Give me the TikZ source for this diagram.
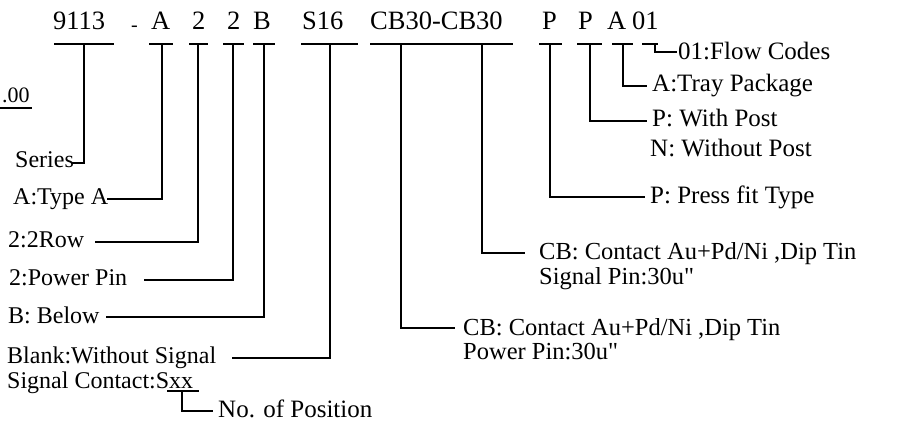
\documentclass[tikz,border=0pt]{standalone}
\usepackage{fontspec}
\setmainfont{Liberation Serif}
\begin{document}
\begin{tikzpicture}[x=1pt,y=-1pt,
  code/.style={anchor=base west,inner sep=0pt,font=\fontsize{26.5}{26.5}\selectfont},
  lab/.style={anchor=base west,inner sep=0pt,font=\fontsize{24}{24}\selectfont},
  rlab/.style={anchor=base west,inner sep=0pt,font=\fontsize{25}{25}\selectfont},
  cblab/.style={anchor=base west,inner sep=0pt,font=\fontsize{24.5}{24.5}\selectfont},
  ul/.style={line width=1.5pt},
  conn/.style={line width=1.3pt}]
\useasboundingbox[fill=white] (0,0) rectangle (899,430);

% top code row
\node[code] (t9113) at (53,30) {9113};
\node[code,font=\fontsize{20}{20}\selectfont] (tdash) at (131,32) {-};
\node[code] (tA) at (151,30) {A};
\node[code] (t2a) at (192,30) {2};
\node[code] (t2b) at (227,30) {2};
\node[code] (tB) at (253,30) {B};
\node[code] (tS) at (302,30) {S16};
\node[code] (tCB) at (370,30) {CB30-CB30};
\node[code] (tP1) at (542,30) {P};
\node[code] (tP2) at (578,30) {P};
\node[code] (tA2) at (607,30) {A};
\node[code] (t01) at (632,30) {01};

% underlines
\draw[ul] (54,44) -- (114,44);
\draw[ul] (149,44) -- (173,44);
\draw[ul] (189,44) -- (208,44);
\draw[ul] (223,44) -- (244,44);
\draw[ul] (253,44) -- (275,44);
\draw[ul] (301,44) -- (358,44);
\draw[ul] (370,44) -- (513,44);
\draw[ul] (539,44) -- (562,44);
\draw[ul] (577,44) -- (602,44);
\draw[ul] (612,44) -- (633,44);
\draw[ul] (642,44) -- (658,44);

% underline points
\coordinate (u9113) at (84,44);
\coordinate (uA) at (162,44);
\coordinate (u2a) at (198,44);
\coordinate (u2b) at (233,44);
\coordinate (uB) at (264,44);
\coordinate (uS) at (330,44);
\coordinate (uCB1) at (401,44);
\coordinate (uCB2) at (482,44);
\coordinate (uP1) at (550,44);
\coordinate (uP2) at (590,44);
\coordinate (uA2) at (623,44);
\coordinate (u01) at (655,44);

% left ".00"
\node[lab,font=\fontsize{22}{22}\selectfont] (dot00) at (2,103) {.00};
\draw[ul] (0,108) -- (32,108);

% labels
\node[lab] (lSeries) at (15,168) {Series};
\node[lab] (lTypeA) at (13,205) {A:Type A};
\node[lab] (lRow) at (8,248) {2:2Row};
\node[lab] (lPower) at (9,286) {2:Power Pin};
\node[lab] (lBelow) at (8,323) {B: Below};
\node[lab] (lBlank) at (7,363) {Blank:Without Signal};
\node[lab] (lSig) at (7,388) {Signal Contact:Sxx};
\node[rlab] (lPos) at (218,417) {No. of Position};
\node[cblab] (lCB1a) at (463,335) {CB: Contact Au+Pd/Ni ,Dip Tin};
\node[cblab] (lCB1b) at (463,359) {Power Pin:30u\textquotedbl};
\node[cblab] (lCB2a) at (539,260) {CB: Contact Au+Pd/Ni ,Dip Tin};
\node[cblab] (lCB2b) at (539,284) {Signal Pin:30u\textquotedbl};
\node[rlab] (lPress) at (650,204) {P: Press fit Type};
\node[rlab] (lWith) at (652,127) {P: With Post};
\node[rlab] (lWithout) at (650,157) {N: Without Post};
\node[rlab] (lTray) at (652,92) {A:Tray Package};
\node[rlab] (lFlow) at (678,60) {01:Flow Codes};

% connector ends
\coordinate (eSeries) at (72,163);
\coordinate (eTypeA) at (107,199);
\coordinate (eRow) at (95,242);
\coordinate (ePower) at (144,280);
\coordinate (eBelow) at (106,317);
\coordinate (eBlank) at (232,358);
\coordinate (eCB1) at (455,328);
\coordinate (eCB2) at (525,253);
\coordinate (ePress) at (645,197);
\coordinate (eWith) at (647,121);
\coordinate (eTray) at (647,86);
\coordinate (eFlow) at (677,52);

\draw[conn] (u9113) |- (eSeries);
\draw[conn] (uA) |- (eTypeA);
\draw[conn] (u2a) |- (eRow);
\draw[conn] (u2b) |- (ePower);
\draw[conn] (uB) |- (eBelow);
\draw[conn] (uS) |- (eBlank);
\draw[conn] (uCB1) |- (eCB1);
\draw[conn] (uCB2) |- (eCB2);
\draw[conn] (uP1) |- (ePress);
\draw[conn] (uP2) |- (eWith);
\draw[conn] (uA2) |- (eTray);
\draw[conn] (u01) |- (eFlow);

% Sxx underline and No. of Position
\draw[ul] (167,391) -- (199,391);
\coordinate (uXX) at (182,391);
\coordinate (ePos) at (213,411);
\draw[conn] (uXX) |- (ePos);
\end{tikzpicture}
\end{document}
